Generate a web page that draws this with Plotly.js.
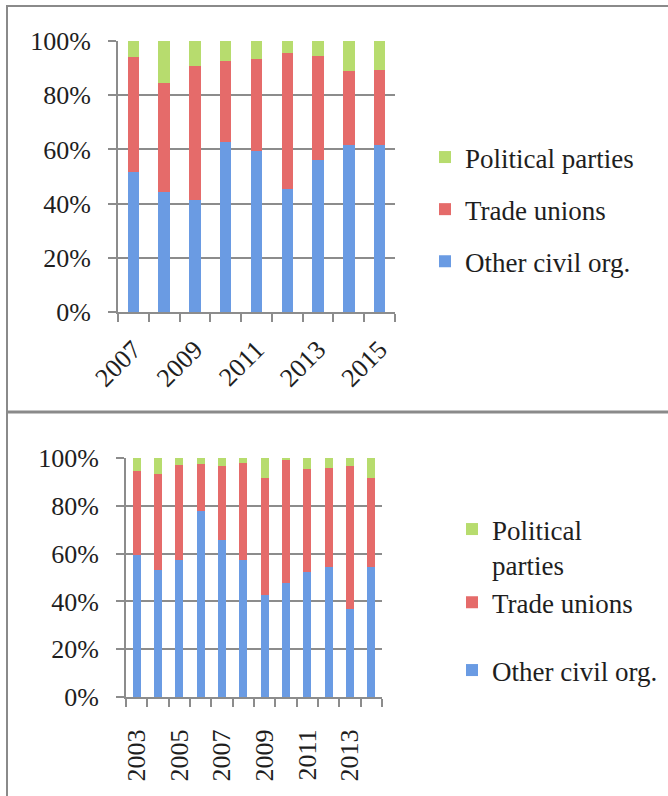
<!DOCTYPE html>
<html>
<head>
<meta charset="utf-8">
<script src="https://cdn.plot.ly/plotly-3.0.1.min.js"></script>
<style>
  html, body { margin: 0; padding: 0; background: #ffffff; }
  #chart { width: 668px; height: 796px; }
</style>
</head>
<body>
<div id="chart"></div>
<script>
// ---------- Data (shares) ----------
const topYears = [2007, 2008, 2009, 2010, 2011, 2012, 2013, 2014, 2015];
const topOther = [0.515, 0.443, 0.415, 0.628, 0.595, 0.453, 0.562, 0.618, 0.618];
const topTrade = [0.425, 0.402, 0.491, 0.298, 0.338, 0.501, 0.383, 0.270, 0.275];
const topParty = [0.060, 0.155, 0.094, 0.074, 0.067, 0.046, 0.055, 0.112, 0.107];
const topTickYears = [2007, 2009, 2011, 2013, 2015];

const botYears = [2003, 2004, 2005, 2006, 2007, 2008, 2009, 2010, 2011, 2012, 2013, 2014];
const botOther = [0.595, 0.532, 0.573, 0.780, 0.655, 0.574, 0.428, 0.479, 0.522, 0.546, 0.370, 0.546];
const botTrade = [0.349, 0.403, 0.399, 0.193, 0.311, 0.405, 0.489, 0.514, 0.434, 0.412, 0.596, 0.370];
const botParty = [0.056, 0.065, 0.028, 0.027, 0.034, 0.021, 0.083, 0.007, 0.044, 0.042, 0.034, 0.084];
const botTickYears = [2003, 2005, 2007, 2009, 2011, 2013];

const seriesNames = ['Other civil org.', 'Trade unions', 'Political parties'];
const botPartyLegendName = 'Political<br>parties';

// ---------- Styles ----------
const W = 668, H = 796;
const px = v => v / W;
const py = v => 1 - v / H;
const colors = { other: '#6a9be3', trade: '#e56b6a', party: '#b7dc6e' };
const FONT = '"Liberation Serif", "DejaVu Serif", serif';
const gridGray = '#8c8c8c';

function barTrace(x, y, name, color, xa, ya, legend, group, rank) {
  return {
    type: 'bar', x: x, y: y, name: name,
    marker: { color: color, line: { width: 0 } },
    xaxis: xa, yaxis: ya, legend: legend, legendgroup: group,
    legendrank: rank, showlegend: true, hoverinfo: 'x+y+name'
  };
}

const data = [
  barTrace(topYears, topOther, seriesNames[0], colors.other, 'x', 'y', 'legend', 'a', 3),
  barTrace(topYears, topTrade, seriesNames[1], colors.trade, 'x', 'y', 'legend', 'b', 2),
  barTrace(topYears, topParty, seriesNames[2], colors.party, 'x', 'y', 'legend', 'c', 1),
  barTrace(botYears, botOther, seriesNames[0], colors.other, 'x2', 'y2', 'legend3', 'd', 3),
  barTrace(botYears, botTrade, seriesNames[1], colors.trade, 'x2', 'y2', 'legend2', 'e', 2),
  barTrace(botYears, botParty, botPartyLegendName, colors.party, 'x2', 'y2', 'legend2', 'f', 1)
];

const tickFont = { family: FONT, size: 26, color: '#1e1e1e' };
const legFont = { family: FONT, size: 27, color: '#1e1e1e' };

function yAxis(domain, anchor) {
  return {
    domain: domain, anchor: anchor, range: [0, 1], dtick: 0.2, tick0: 0,
    tickformat: '.0%', tickfont: tickFont,
    ticks: 'outside', ticklen: 8, tickwidth: 2, tickcolor: gridGray,
    showline: true, linecolor: gridGray, linewidth: 2,
    showgrid: true, gridcolor: gridGray, gridwidth: 2,
    zeroline: false, ticklabelstandoff: 12, fixedrange: true
  };
}
function xAxis(domain, anchor, range, tickYears, angle, tick0, standoff) {
  return {
    domain: domain, anchor: anchor, type: 'linear', range: range,
    tickmode: 'array', tickvals: tickYears, ticktext: tickYears.map(String),
    tickangle: angle, tickfont: tickFont, ticks: '', ticklabelstandoff: standoff,
    minor: { tickmode: 'linear', tick0: tick0, dtick: 1, ticks: 'outside',
             ticklen: 8, tickwidth: 2, tickcolor: gridGray, showgrid: false },
    showline: true, linecolor: gridGray, linewidth: 2,
    showgrid: false, zeroline: false, fixedrange: true
  };
}

const layout = {
  width: W, height: H,
  margin: { l: 0, r: 0, t: 0, b: 0 },
  paper_bgcolor: '#ffffff', plot_bgcolor: 'rgba(0,0,0,0)',
  barmode: 'stack', bargap: 0.63,
  font: { family: FONT },
  xaxis: xAxis([px(118), px(395)], 'y', [2006.5, 2015.5], topTickYears, -45, 2006.5, 10),
  yaxis: yAxis([py(312), py(41)], 'x'),
  xaxis2: xAxis([px(126), px(382)], 'y2', [2002.5, 2014.5], botTickYears, -90, 2002.5, 20),
  yaxis2: yAxis([py(697), py(458)], 'x2'),
  legend: {
    x: px(425), y: py(133), xanchor: 'left', yanchor: 'top',
    font: legFont, traceorder: 'grouped', tracegroupgap: 14,
    bgcolor: 'rgba(0,0,0,0)', borderwidth: 0
  },
  legend2: {
    x: px(452), y: py(505), xanchor: 'left', yanchor: 'top',
    font: legFont, traceorder: 'grouped', tracegroupgap: 0, valign: 'top',
    bgcolor: 'rgba(0,0,0,0)', borderwidth: 0
  },
  legend3: {
    x: px(452), y: py(646), xanchor: 'left', yanchor: 'top',
    font: legFont, bgcolor: 'rgba(0,0,0,0)', borderwidth: 0
  },
  shapes: [
    { type: 'line', xref: 'paper', yref: 'paper', x0: px(7), x1: 1, y0: py(6), y1: py(6),
      line: { color: '#8a8a8a', width: 2 } },
    { type: 'line', xref: 'paper', yref: 'paper', x0: px(7), x1: px(7), y0: py(5), y1: 0,
      line: { color: '#8a8a8a', width: 2 } },
    { type: 'line', xref: 'paper', yref: 'paper', x0: px(7), x1: 1, y0: py(412), y1: py(412),
      line: { color: '#8a8a8a', width: 3 } }
  ]
};

Plotly.newPlot('chart', data, layout, { displayModeBar: false, staticPlot: true });
</script>
</body>
</html>
